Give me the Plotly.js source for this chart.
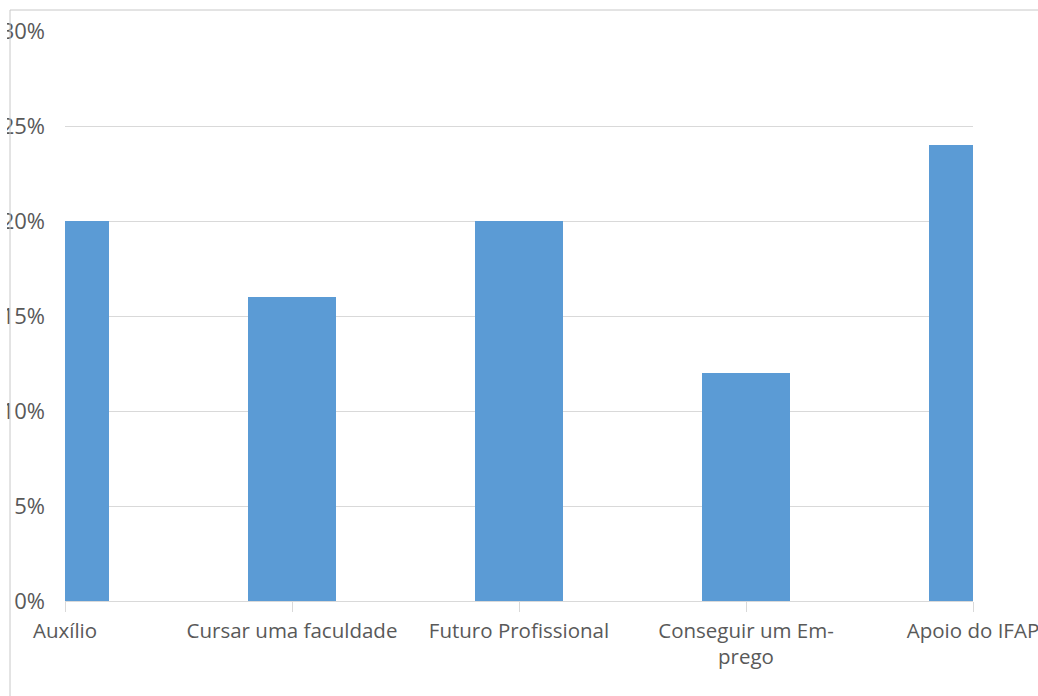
<!DOCTYPE html>
<html><head><meta charset="utf-8">
<script src="https://cdn.plot.ly/plotly-3.0.1.min.js"></script>
<style>html,body{margin:0;padding:0;background:#fff;overflow:hidden}
#wrap{position:absolute;left:7px;top:0;width:1031px;height:696px;overflow:hidden}
#chart{width:1031px;height:696px}</style>
</head><body><div id="wrap"><div id="chart"></div></div>
<script>
const categories = ["Auxílio", "Cursar uma faculdade", "Futuro Profissional", "Conseguir um Em-<br>prego", "Apoio do IFAP"];
const values = [0.20, 0.16, 0.20, 0.12, 0.24];
const yTicks = [0, 0.05, 0.10, 0.15, 0.20, 0.25, 0.30];
const yTickLabels = ["0%", "5%", "10%", "15%", "20%", "25%", "30%"];

const W = 1031, H = 696, ml = 58, mr = 65, mt = 31, mb = 95;
const pw = W - ml - mr, ph = H - mt - mb;
const xFont = {family: "'Open Sans', sans-serif", size: 20.5, color: "#595959"};
const yFont = {family: "'Open Sans', sans-serif", size: 22, color: "#595959"};

const trace = {
  type: "bar", x: categories, y: values, width: 0.392,
  marker: {color: "#5b9bd5"}, hoverinfo: "skip"
};
const layout = {
  width: W, height: H,
  margin: {l: ml, r: mr, t: mt, b: mb, pad: 0},
  paper_bgcolor: "#fff", plot_bgcolor: "#fff",
  font: xFont, showlegend: false, bargap: 0,
  xaxis: {
    type: "category", range: [0, 4], fixedrange: true,
    showline: true, linecolor: "#d9d9d9", linewidth: 1,
    ticks: "outside", ticklen: 10, tickcolor: "#d9d9d9", tickwidth: 1,
    ticklabelstandoff: 1,
    tickfont: xFont, showgrid: false, zeroline: false, automargin: false
  },
  yaxis: {
    range: [0, 0.30], tickvals: yTicks, ticktext: yTickLabels,
    showgrid: true, gridcolor: "#d9d9d9", gridwidth: 1,
    zeroline: false, showline: false, ticks: "", ticklabelstandoff: 19,
    tickfont: yFont, automargin: false, fixedrange: true
  },
  shapes: [
    {type: "line", xref: "paper", yref: "paper", x0: (3 - ml) / pw, x1: (3 - ml) / pw,
     y0: 1 + 21 / ph, y1: -(mb + 5) / ph, line: {color: "#c8c8c8", width: 1}},
    {type: "line", xref: "paper", yref: "paper", x0: (3 - ml) / pw, x1: (W + 5 - ml) / pw,
     y0: 1 + 21 / ph, y1: 1 + 21 / ph, line: {color: "#c8c8c8", width: 1}}
  ]
};
Plotly.newPlot("chart", [trace], layout, {staticPlot: true, displayModeBar: false});
</script></body></html>
